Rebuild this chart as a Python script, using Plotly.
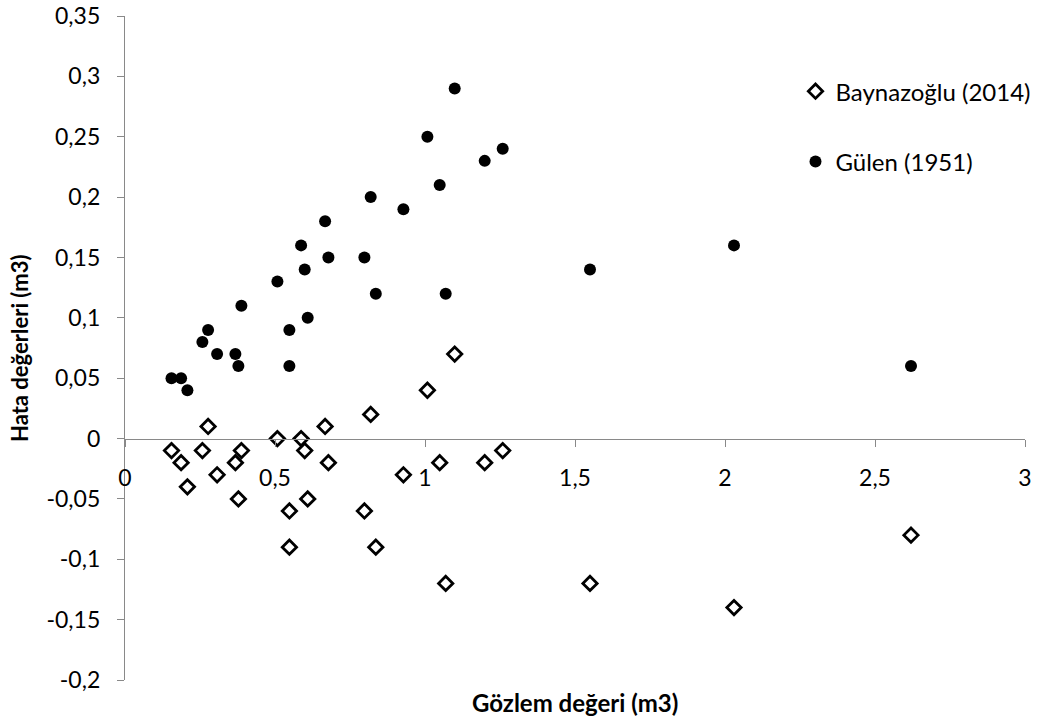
import plotly.graph_objects as go

# Observed values (m3)
gozlem = [0.155, 0.187, 0.208, 0.258, 0.277, 0.307, 0.368, 0.378, 0.388, 0.508,
          0.548, 0.548, 0.587, 0.599, 0.609, 0.667, 0.678, 0.798, 0.819, 0.836,
          0.928, 1.008, 1.049, 1.069, 1.099, 1.199, 1.259, 1.55, 2.03, 2.62]

# Errors - Baynazoğlu (2014)
baynazoglu = [-0.01, -0.02, -0.04, -0.01, 0.01, -0.03, -0.02, -0.05, -0.01, 0.0,
              -0.06, -0.09, 0.0, -0.01, -0.05, 0.01, -0.02, -0.06, 0.02, -0.09,
              -0.03, 0.04, -0.02, -0.12, 0.07, -0.02, -0.01, -0.12, -0.14, -0.08]

# Errors - Gülen (1951)
gulen = [0.05, 0.05, 0.04, 0.08, 0.09, 0.07, 0.07, 0.06, 0.11, 0.13,
         0.09, 0.06, 0.16, 0.14, 0.10, 0.18, 0.15, 0.15, 0.20, 0.12,
         0.19, 0.25, 0.21, 0.12, 0.29, 0.23, 0.24, 0.14, 0.16, 0.06]

x_tickvals = [0, 0.5, 1, 1.5, 2, 2.5, 3]
x_ticktext = ["0", "0,5", "1", "1,5", "2", "2,5", "3"]
y_tickvals = [-0.2, -0.15, -0.1, -0.05, 0, 0.05, 0.1, 0.15, 0.2, 0.25, 0.3, 0.35]
y_ticktext = ["-0,2", "-0,15", "-0,1", "-0,05", "0", "0,05", "0,1", "0,15", "0,2", "0,25", "0,3", "0,35"]

FONT = "Lato, 'Open Sans', sans-serif"
AX = "#898989"

fig = go.Figure()
fig.add_trace(go.Scatter(
    x=gozlem, y=baynazoglu, mode="markers", name="Baynazoğlu (2014)",
    legendgroup="a",
    marker=dict(symbol="diamond-open", size=11, color="black", line=dict(width=2.8, color="black")),
))
fig.add_trace(go.Scatter(
    x=gozlem, y=gulen, mode="markers", name="Gülen (1951)",
    legendgroup="b",
    marker=dict(symbol="circle", size=12, color="black"),
))

ymin, ymax = -0.2, 0.35
fig.update_layout(
    width=1048, height=725,
    paper_bgcolor="white", plot_bgcolor="white",
    margin=dict(l=125, r=23, t=16, b=45),
    font=dict(family=FONT, size=23, color="black"),
    showlegend=True,
    legend=dict(x=0.745, y=0.92, xanchor="left", yanchor="top",
                tracegroupgap=36, font=dict(size=24), itemwidth=30,
                bgcolor="rgba(0,0,0,0)"),
    xaxis=dict(range=[0, 3], tickvals=x_tickvals, ticktext=x_ticktext,
               showgrid=False, zeroline=False, showline=True, linecolor=AX, linewidth=1.3,
               ticks="outside", ticklen=7, tickcolor=AX, tickwidth=1.3,
               anchor="free", position=(0 - ymin) / (ymax - ymin), automargin=False,
               ticklabelstandoff=12, tickfont=dict(size=23)),
    yaxis=dict(range=[ymin, ymax], tickvals=y_tickvals, ticktext=y_ticktext,
               showgrid=False, zeroline=False, showline=True, linecolor=AX, linewidth=1.3,
               ticks="outside", ticklen=7, tickcolor=AX, tickwidth=1.3, automargin=False,
               ticklabelstandoff=12, tickfont=dict(size=23)),
    hovermode=False,
)

fig.add_annotation(text="<b>Gözlem değeri (m3)</b>", xref="paper", yref="paper",
                   x=0.5, y=0, yshift=-22, xanchor="center", yanchor="middle",
                   showarrow=False, font=dict(size=24, family=FONT))
fig.add_annotation(text="<b>Hata değerleri (m3)</b>", xref="paper", yref="paper",
                   x=0, xshift=-106, y=0.5, xanchor="center", yanchor="middle",
                   textangle=-90, showarrow=False, font=dict(size=22, family=FONT))

fig.write_html("out.html")
